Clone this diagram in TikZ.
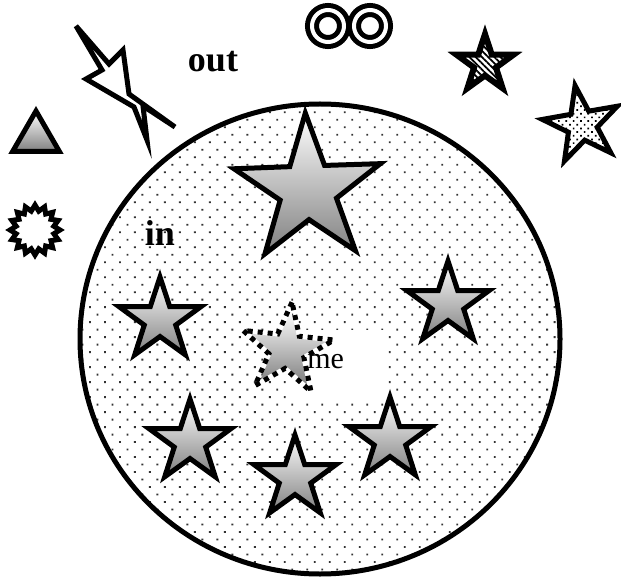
\documentclass[tikz,border=0pt]{standalone}
\usepackage{fontspec}
\setmainfont{Liberation Serif}
\usetikzlibrary{shapes.geometric,patterns.meta}
\begin{document}
\begin{tikzpicture}[
        x=0.5pt, y=-0.5pt,
        thickline/.style={draw, line width=2.5pt, inner sep=0pt},
        shadestar/.style={thickline, star, star points=5, star point ratio=2.6, minimum size=43pt, top color=white, bottom color=black!50},
        word/.style={font=\fontsize{18}{20}\selectfont\bfseries, inner sep=0pt},
        ring/.style={circle, draw, double, line width=2.5pt, double distance=2pt, minimum size=16pt, inner sep=0pt},
    ]
    \useasboundingbox (0,0) rectangle (621,577);
    % the world
    \node[thickline, ellipse, minimum width=240pt, minimum height=235pt, pattern={Dots[angle=45,distance=5.3pt,radius=0.65pt]}, pattern color=black!80](world) at (320,339){};
    \node[shadestar, minimum size=77pt, rotate=2](bigstar) at (308,190){};
    \node[shadestar](leftstar) at (160,320){};
    \node[shadestar](rightstar) at (448,304){};
    \node[shadestar](lowleft) at (190,442){};
    \node[shadestar](lowmid) at (295,478){};
    \node[shadestar](lowright) at (390,440){};
    % me
    \fill[white] (290,330) rectangle (386,400);
    \node[shadestar, draw=none, minimum size=40pt, rotate=-6](mestar) at (287,350){};
    \draw[line width=2.5pt, dash pattern=on 2.5pt off 2.5pt] (mestar.outer point 1) -- (mestar.inner point 1) -- (mestar.outer point 2) -- (mestar.inner point 2) -- (mestar.outer point 3) -- (mestar.inner point 3) -- (mestar.outer point 4) -- (mestar.inner point 4) -- (mestar.outer point 5) -- (mestar.inner point 5) -- cycle;
    \node[anchor=west, inner sep=0pt, font=\fontsize{15}{17}\selectfont](me) at (307,362){me};
    \node[word](inlabel) at (160,233){in};
    % outside
    \node[word](outlabel) at (213,62){out};
    \node[ring](ringa) at (328,26){};
    \node[ring](ringb) at (370,26){};
    \node[thickline, star, star points=5, star point ratio=2.6, line width=3pt, minimum size=30pt, pattern={Lines[angle=-45,distance=2.2pt,line width=0.9pt]}](hatchstar) at (485,64){};
    \node[thickline, star, star points=5, star point ratio=2.6, minimum size=40pt, rotate=10, pattern={Dots[angle=45,distance=2.6pt,radius=0.6pt]}](dotstar) at (582,125){};
    \node[thickline, regular polygon, regular polygon sides=3, minimum size=27pt, top color=white, bottom color=black!50](tri) at (36,138){};
    \node[thickline, star, star points=16, star point ratio=1.3, minimum size=25pt, fill=white](burst) at (35,230){};
    \draw[line width=2.5pt, fill=white] (76,26) -- (109,64) -- (123,50) -- (129,94) -- (175,127) -- (143,106) -- (147,140) -- (134,107) -- (86,79) -- (102,70) -- cycle;
\end{tikzpicture}
\end{document}
